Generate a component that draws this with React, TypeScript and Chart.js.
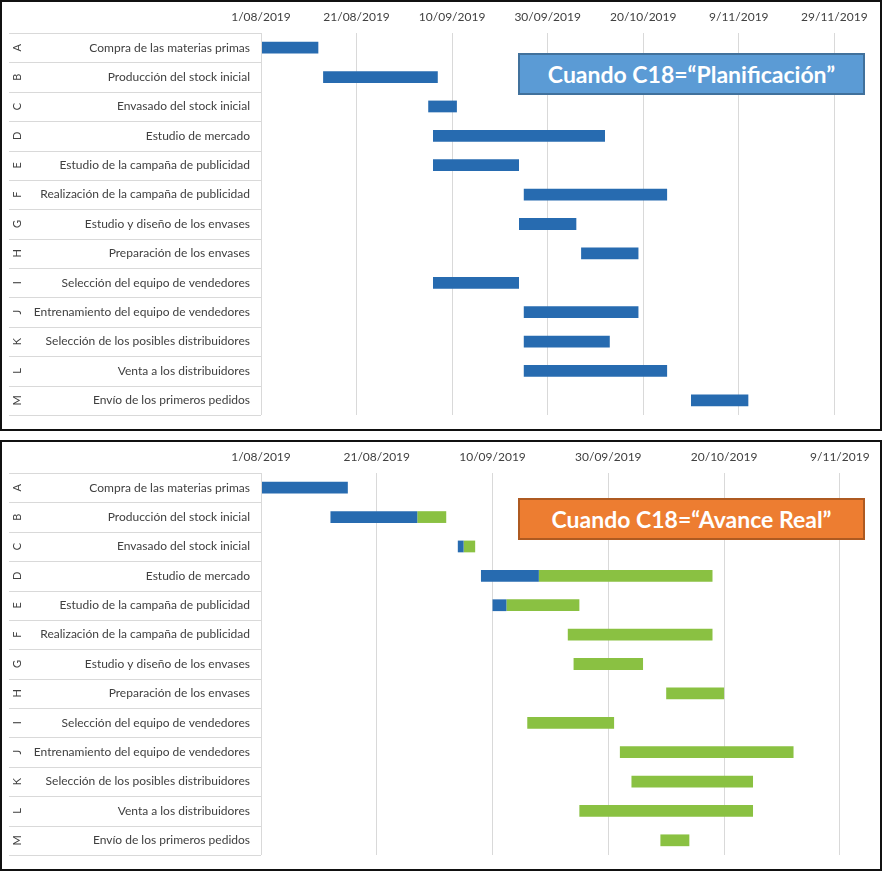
import React, { useEffect, useRef } from "react";
import { Chart, registerables } from "chart.js";

Chart.register(...registerables);

const tasks = [
  "Compra de las materias primas",
  "Producción del stock inicial",
  "Envasado del stock inicial",
  "Estudio de mercado",
  "Estudio de la campaña de publicidad",
  "Realización de la campaña de publicidad",
  "Estudio y diseño de los envases",
  "Preparación de los envases",
  "Selección del equipo de vendedores",
  "Entrenamiento del equipo de vendedores",
  "Selección de los posibles distribuidores",
  "Venta a los distribuidores",
  "Envío de los primeros pedidos",
];
const letters = ["A", "B", "C", "D", "E", "F", "G", "H", "I", "J", "K", "L", "M"];

// Planned schedule (days after 1/08/2019)
const planStart = [0, 13, 35, 36, 36, 55, 54, 67, 36, 55, 55, 55, 90];
const planDays = [12, 24, 6, 36, 18, 30, 12, 12, 18, 24, 18, 30, 12];

// Real progress (days after 1/08/2019)
const realStart = [0, 12, 34, 38, 40, 53, 54, 70, 46, 62, 64, 55, 69];
const realDone = [15, 15, 1, 10, 2.4, 0, 0, 0, 0, 0, 0, 0, 0];
const realLeft = [0, 5, 2, 30, 12.6, 25, 12, 10, 15, 30, 21, 30, 5];

const planTickValues = [0, 20, 40, 60, 80, 100, 120];
const planTickLabels = ["1/08/2019", "21/08/2019", "10/09/2019", "30/09/2019", "20/10/2019", "9/11/2019", "29/11/2019"];
const planMax = 126;

const realTickValues = [0, 20, 40, 60, 80, 100];
const realTickLabels = ["1/08/2019", "21/08/2019", "10/09/2019", "30/09/2019", "20/10/2019", "9/11/2019"];
const realMax = 104;

const BLUE = "#276bb0";
const GREEN = "#8ac142";
const TEXT = "#404040";
const GRID = "#d9d9d9";
const FONT = "Lato";

const rowLabelPlugin = {
  id: "rowLabels",
  afterDraw(chart: any) {
    const { ctx, chartArea } = chart;
    const n = letters.length;
    const rowH = (chartArea.bottom - chartArea.top) / n;
    ctx.save();
    ctx.strokeStyle = GRID;
    ctx.lineWidth = 1;
    for (let k = 0; k <= n; k++) {
      const y = Math.round(chartArea.top + k * rowH) + 0.5;
      ctx.beginPath();
      ctx.moveTo(7, y);
      ctx.lineTo(chartArea.left, y);
      ctx.stroke();
    }
    ctx.beginPath();
    ctx.moveTo(Math.round(chartArea.left) + 0.5, chartArea.top);
    ctx.lineTo(Math.round(chartArea.left) + 0.5, chartArea.bottom);
    ctx.stroke();
    ctx.fillStyle = TEXT;
    ctx.font = `11px ${FONT}`;
    ctx.textAlign = "center";
    ctx.textBaseline = "middle";
    for (let i = 0; i < n; i++) {
      const y = chartArea.top + (i + 0.5) * rowH;
      ctx.save();
      ctx.translate(15, y);
      ctx.rotate(-Math.PI / 2);
      ctx.fillText(letters[i], 0, 0);
      ctx.restore();
    }
    ctx.restore();
  },
};

function makeOptions(max: number, tickValues: number[], tickLabels: string[]): any {
  return {
    indexAxis: "y",
    responsive: false,
    animation: false,
    layout: { padding: { left: 0, top: 0, right: 17, bottom: 14 } },
    plugins: { legend: { display: false }, tooltip: { enabled: false } },
    datasets: { bar: { barPercentage: 0.4, categoryPercentage: 1 } },
    scales: {
      x: {
        type: "linear",
        position: "top",
        stacked: true,
        min: 0,
        max,
        afterBuildTicks: (scale: any) => {
          scale.ticks = tickValues.map((v) => ({ value: v }));
        },
        afterFit: (scale: any) => {
          scale.height = 31;
        },
        ticks: {
          autoSkip: false,
          maxRotation: 0,
          padding: 9,
          color: TEXT,
          font: { family: FONT, size: 12 },
          callback: (_v: any, i: number) => tickLabels[i],
        },
        grid: { color: GRID, lineWidth: 1, drawTicks: false },
        border: { display: false },
      },
      y: {
        type: "category",
        stacked: true,
        afterFit: (scale: any) => {
          scale.width = 259;
        },
        ticks: {
          autoSkip: false,
          padding: 3,
          color: TEXT,
          font: { family: FONT, size: 12 },
        },
        grid: { display: false },
        border: { display: false },
      },
    },
  };
}

function GanttCanvas({ kind }: { kind: "plan" | "real" }) {
  const ref = useRef<HTMLCanvasElement>(null);
  useEffect(() => {
    if (!ref.current) return;
    const datasets =
      kind === "plan"
        ? [
            { data: planStart, backgroundColor: "rgba(0,0,0,0)" },
            { data: planDays, backgroundColor: BLUE },
          ]
        : [
            { data: realStart, backgroundColor: "rgba(0,0,0,0)" },
            { data: realDone, backgroundColor: BLUE },
            { data: realLeft, backgroundColor: GREEN },
          ];
    const chart = new Chart(ref.current, {
      type: "bar",
      data: { labels: tasks, datasets },
      options:
        kind === "plan"
          ? makeOptions(planMax, planTickValues, planTickLabels)
          : makeOptions(realMax, realTickValues, realTickLabels),
      plugins: [rowLabelPlugin],
    } as any);
    return () => chart.destroy();
  }, [kind]);
  return (
    <canvas
      ref={ref}
      width={878}
      height={427}
      style={{ position: "absolute", left: 0, top: 0, width: 878, height: 427 }}
    />
  );
}

const frameStyle = (top: number): React.CSSProperties => ({
  position: "absolute",
  left: 0,
  top,
  width: 882,
  height: 431,
  border: "2px solid #111",
  boxSizing: "border-box",
  background: "#fff",
});

const boxStyle = (top: number, bg: string, border: string): React.CSSProperties => ({
  position: "absolute",
  left: 518,
  top,
  width: 347,
  height: 42,
  background: bg,
  border: `2px solid ${border}`,
  boxSizing: "border-box",
  color: "#fff",
  fontFamily: FONT,
  fontWeight: 700,
  fontSize: 23,
  display: "flex",
  alignItems: "center",
  justifyContent: "center",
  whiteSpace: "nowrap",
});

export default function App() {
  return (
    <div
      style={{
        position: "fixed",
        left: 0,
        top: 0,
        width: 883,
        height: 871,
        background: "#fff",
        overflow: "hidden",
      }}
    >
      <div style={frameStyle(0)}>
        <GanttCanvas kind="plan" />
      </div>
      <div style={frameStyle(440)}>
        <GanttCanvas kind="real" />
      </div>
      <div style={boxStyle(53, "#5b9bd5", "#41719c")}>Cuando C18=“Planificación”</div>
      <div style={boxStyle(498, "#ed7d31", "#ae5a21")}>Cuando C18=“Avance Real”</div>
    </div>
  );
}
